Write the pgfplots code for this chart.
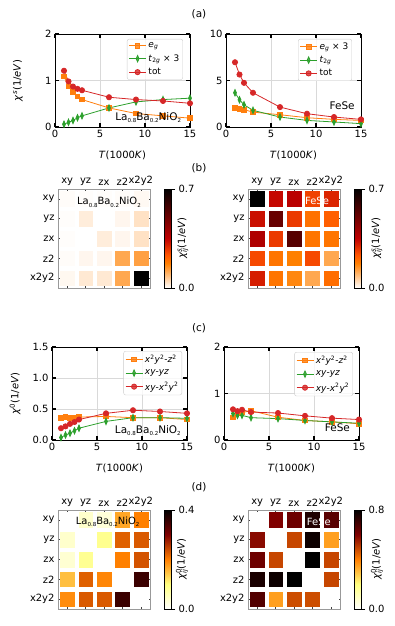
\documentclass[border=0pt]{standalone}
\usepackage{fontspec}
\setmainfont{DejaVu Sans}
\usepackage{pgfplots}
\pgfplotsset{compat=1.18}
\usepackage{pgfplotstable}

\definecolor{cO}{RGB}{255,127,14}
\definecolor{cG}{RGB}{44,160,44}
\definecolor{cR}{RGB}{214,39,40}

\newcommand\fs[1]{\fontsize{#1}{#1}\selectfont}
\newcommand\sub[1]{\raisebox{-0.45ex}{\fontsize{5.5}{6}\selectfont #1}}
\newcommand\lanio{La\sub{0.8}Ba\sub{0.2}NiO\sub{2}}

\pgfplotstableread{
c r v
0 0 0.004
1 0 0.003
2 0 0.003
3 0 0.004
4 0 0.008
0 1 0.003
1 1 0.025
2 1 0.000
3 1 0.012
4 1 0.040
0 2 0.003
1 2 0.000
2 2 0.025
3 2 0.012
4 2 0.040
0 3 0.004
1 3 0.012
2 3 0.012
3 3 0.120
4 3 0.130
0 4 0.010
1 4 0.030
2 4 0.030
3 4 0.120
4 4 0.700
}\tabBL

\pgfplotstableread{
c r v
0 0 0.700
1 0 0.340
2 0 0.360
3 0 0.260
4 0 0.300
0 1 0.330
1 1 0.510
2 1 0.270
3 1 0.195
4 1 0.220
0 2 0.380
1 2 0.270
2 2 0.540
3 2 0.190
4 2 0.190
0 3 0.250
1 3 0.190
2 3 0.175
3 3 0.250
4 3 0.120
0 4 0.310
1 4 0.190
2 4 0.165
3 4 0.120
4 4 0.200
}\tabBR

\pgfplotstableread{
c r v
0 0 0.000
1 0 0.040
2 0 0.030
3 0 0.170
4 0 0.200
0 1 0.040
1 1 0.000
2 1 0.088
3 1 0.225
4 1 0.230
0 2 0.035
1 2 0.085
2 2 0.000
3 2 0.200
4 2 0.235
0 3 0.150
1 3 0.225
2 3 0.195
3 3 0.000
4 3 0.354
0 4 0.190
1 4 0.230
2 4 0.230
3 4 0.354
4 4 0.000
}\tabDL

\pgfplotstableread{
c r v
0 0 0.000
1 0 0.600
2 0 0.630
3 0 0.750
4 0 0.660
0 1 0.585
1 1 0.000
2 1 0.490
3 1 0.780
4 1 0.350
0 2 0.630
1 2 0.490
2 2 0.000
3 2 0.800
4 2 0.490
0 3 0.760
1 3 0.780
2 3 0.800
3 3 0.000
4 3 0.490
0 4 0.670
1 4 0.350
2 4 0.480
3 4 0.480
4 4 0.000
}\tabDR

\pgfplotsset{
  colormap={gistheatr}{rgb(0cm)=(1,1,1); rgb(3cm)=(1,0.5,0); rgb(4cm)=(1,0.3333,0); rgb(6cm)=(0.75,0,0); rgb(12cm)=(0,0,0)},
  colormap={afmhotr}{rgb(0cm)=(1,1,1); rgb(1cm)=(1,1,0.5); rgb(2cm)=(1,0.5,0); rgb(3cm)=(0.5,0,0); rgb(4cm)=(0,0,0)},
  /pgf/number format/assume math mode=true,
  lineax/.style={
    scale only axis, width=135bp, height=93bp,
    xmin=0, xmax=15, xtick={0,5,10,15},
    tick align=inside, xtick pos=both, ytick pos=both,
    major tick length=4bp,
    tick style={black, line width=1.1pt},
    axis line style={black, line width=0.8pt},
    grid=major, grid style={black!15, line width=0.5pt},
    tick label style={font=\fs{10}},
    label style={font=\fs{10}},
    xlabel={\textit{T}(1000\textit{K})},
    xlabel style={at={(axis description cs:0.5,-0.3)}, anchor=center},
    ylabel style={at={(axis description cs:-0.274,0.5)}, anchor=center},
    clip=false,
    legend cell align=left,
    legend style={anchor=north east, draw=black!20, rounded corners=2pt,
      fill=white, fill opacity=0.8, text opacity=1, draw opacity=1,
      font=\fs{9}, inner sep=1.5pt, row sep=1.5pt},
  },
  so/.style={cO, line width=0.8pt, mark=square*, mark size=2.3bp, mark options={fill=cO}},
  sg/.style={cG, line width=0.8pt, mark=diamond*, mark size=3.2bp, mark options={fill=cG, xscale=0.6}},
  sr/.style={cR, line width=0.8pt, mark=*, mark size=2.6bp, mark options={fill=cR}},
  heat/.style={
    scale only axis, width=92bp, height=99bp,
    xmin=-0.5, xmax=4.5, ymin=-0.5, ymax=4.5, y dir=reverse,
    enlargelimits=false,
    xtick={0,...,4}, ytick={0,...,4},
    xticklabels={xy,yz,zx,z2,x2y2}, yticklabels={xy,yz,zx,z2,x2y2},
    xtick pos=both, ytick pos=both, xticklabel pos=right, yticklabel pos=left,
    tick align=inside, major tick length=2.5bp, tick style={black!75, line width=0.6pt},
    axis line style={black!40, line width=0.8pt},
    tick label style={font=\fs{10}},
    axis on top,
    point meta min=0,
    colorbar,
  },
  cbs/.style={
    at={(parent axis.north east)}, anchor=north west, xshift=6bp,
    scale only axis, width=7bp, height=99bp,
    ytick pos=right, yticklabel pos=right,
    tick align=outside, major tick length=3.5bp, tick style={black, line width=0.6pt},
    axis line style={black, line width=0.6pt},
    yticklabel style={font=\fs{10}, /pgf/number format/.cd, fixed, fixed zerofill, precision=1},
  },
  hplot/.style={scatter, only marks, mark=square*, mark size=6.9bp, point meta=explicit,
    scatter/use mapped color={draw=mapped color, fill=mapped color},
    mark options={yscale=1.07}},
}

\begin{document}
\begin{tikzpicture}
\useasboundingbox (0,0) rectangle (395bp,-626bp);

% panel labels
\node[font=\fs{10.5}] at (199bp,-14bp) {(a)};
\node[font=\fs{10.5}] at (199bp,-168bp) {(b)};
\node[font=\fs{10.5}] at (199bp,-328bp) {(c)};
\node[font=\fs{10.5}] at (199bp,-487bp) {(d)};

% ---------- (a) left ----------
\begin{axis}[lineax, at={(55bp,-127bp)}, anchor=south west,
  ymin=0, ymax=2, ytick={0,1,2},
  ylabel={\textit{χ}\textsuperscript{\textit{s}}(1/\textit{eV})},
  legend style={at={(rel axis cs:0.948,0.947)}}]
\addplot[so] coordinates {(1,1.09) (1.5,0.87) (2,0.75) (2.5,0.66) (3,0.59) (6,0.41) (9,0.29) (12,0.24) (15,0.19)};
\addlegendentry{\textit{e}\textsubscript{\textit{g}}}
\addplot[sg] coordinates {(1,0.06) (1.5,0.10) (2,0.14) (2.5,0.20) (3,0.24) (6,0.41) (9,0.54) (12,0.59) (15,0.62)};
\addlegendentry{\textit{t}\textsubscript{2\textit{g}} × 3}
\addplot[sr] coordinates {(1,1.21) (1.5,0.98) (2,0.87) (2.5,0.82) (3,0.79) (6,0.64) (9,0.59) (12,0.56) (15,0.51)};
\addlegendentry{tot}
\coordinate (tA1) at (rel axis cs:0.69,0.1);
\end{axis}
\node[font=\fs{10.5}] at (tA1) {\lanio};

% ---------- (a) right ----------
\begin{axis}[lineax, at={(226bp,-127bp)}, anchor=south west,
  ymin=0, ymax=10, ytick={0,5,10},
  legend style={at={(rel axis cs:0.933,0.947)}}]
\addplot[so] coordinates {(1,2.07) (1.5,1.96) (2,1.86) (3,1.60) (6,1.32) (9,1.00) (12,0.82) (15,0.71)};
\addlegendentry{\textit{e}\textsubscript{\textit{g}} × 3}
\addplot[sg] coordinates {(1,3.68) (1.5,2.93) (2,2.39) (3,1.79) (6,1.07) (9,0.71) (12,0.54) (15,0.36)};
\addlegendentry{\textit{t}\textsubscript{2\textit{g}}}
\addplot[sr] coordinates {(1,6.96) (1.5,5.64) (2,4.75) (3,3.68) (6,2.14) (9,1.43) (12,1.07) (15,0.82)};
\addlegendentry{tot}
\coordinate (tA2) at (rel axis cs:0.86,0.234);
\end{axis}
\node[font=\fs{10.5}] at (tA2) {FeSe};

% ---------- (b) left ----------
\begin{axis}[heat, at={(58bp,-288bp)}, anchor=south west,
  colormap name=gistheatr, point meta max=0.7,
  colorbar style={cbs, ytick={0,0.7}}]
\addplot[hplot] table[x=c, y=r, meta=v] {\tabBL};
\coordinate (tB1) at (axis cs:2.27,0.16);
\end{axis}
\node[font=\fs{10}] at (tB1) {\lanio};
\node[rotate=90, font=\fs{10}] at (183bp,-238bp) {\textit{χ}\rlap{\textsuperscript{\textit{s}}}\textsubscript{\textit{ij}}(1/\textit{eV})};

% ---------- (b) right ----------
\begin{axis}[heat, at={(248bp,-288bp)}, anchor=south west,
  colormap name=gistheatr, point meta max=0.7,
  colorbar style={cbs, ytick={0,0.7}}]
\addplot[hplot] table[x=c, y=r, meta=v] {\tabBR};
\coordinate (tB2) at (axis cs:3.25,0.1);
\end{axis}
\node[font=\fs{10}, text=white] at (tB2) {FeSe};
\node[rotate=90, font=\fs{10}] at (377bp,-238bp) {\textit{χ}\rlap{\textsuperscript{\textit{s}}}\textsubscript{\textit{ij}}(1/\textit{eV})};

% ---------- (c) left ----------
\begin{axis}[lineax, at={(52bp,-440bp)}, anchor=south west,
  ymin=0, ymax=1.5, ytick={0,0.5,1,1.5},
  yticklabel style={/pgf/number format/.cd, fixed, fixed zerofill, precision=1},
  ylabel={\textit{χ}\textsuperscript{0}(1/\textit{eV})},
  legend style={at={(rel axis cs:0.963,0.957)}}]
\addplot[so] coordinates {(1,0.355) (1.5,0.37) (2,0.36) (2.5,0.355) (3,0.37) (6,0.38) (9,0.36) (12,0.36) (15,0.33)};
\addlegendentry{\textit{x}\textsuperscript{2}\textit{y}\textsuperscript{2}-\textit{z}\textsuperscript{2}}
\addplot[sg] coordinates {(1,0.04) (1.5,0.08) (2,0.11) (2.5,0.15) (3,0.19) (6,0.30) (9,0.36) (12,0.36) (15,0.35)};
\addlegendentry{\textit{xy}-\textit{yz}}
\addplot[sr] coordinates {(1,0.19) (1.5,0.22) (2,0.26) (2.5,0.29) (3,0.33) (6,0.43) (9,0.48) (12,0.46) (15,0.43)};
\addlegendentry{\textit{xy}-\textit{x}\textsuperscript{2}\textit{y}\textsuperscript{2}}
\coordinate (tC1) at (rel axis cs:0.71,0.1);
\end{axis}
\node[font=\fs{10.5}] at (tC1) {\lanio};

% ---------- (c) right ----------
\begin{axis}[lineax, at={(224bp,-440bp)}, anchor=south west,
  ymin=0, ymax=2, ytick={0,1,2},
  legend style={at={(rel axis cs:0.955,0.946)}}]
\addplot[so] coordinates {(1,0.49) (1.5,0.57) (2,0.59) (3,0.63) (6,0.49) (9,0.42) (12,0.39) (15,0.35)};
\addlegendentry{\textit{x}\textsuperscript{2}\textit{y}\textsuperscript{2}-\textit{z}\textsuperscript{2}}
\addplot[sg] coordinates {(1,0.57) (1.5,0.53) (2,0.53) (3,0.48) (6,0.46) (9,0.42) (12,0.39) (15,0.36)};
\addlegendentry{\textit{xy}-\textit{yz}}
\addplot[sr] coordinates {(1,0.66) (1.5,0.62) (2,0.65) (3,0.60) (6,0.58) (9,0.52) (12,0.47) (15,0.44)};
\addlegendentry{\textit{xy}-\textit{x}\textsuperscript{2}\textit{y}\textsuperscript{2}}
\coordinate (tC2) at (rel axis cs:0.84,0.13);
\end{axis}
\node[font=\fs{10.5}] at (tC2) {FeSe};

% ---------- (d) left ----------
\begin{axis}[heat, at={(58bp,-609bp)}, anchor=south west,
  colormap name=afmhotr, point meta max=0.4,
  colorbar style={cbs, ytick={0,0.4}}]
\addplot[hplot] table[x=c, y=r, meta=v] {\tabDL};
\coordinate (tD1) at (axis cs:2.2,0.1);
\end{axis}
\node[font=\fs{10}] at (tD1) {\lanio};
\node[rotate=90, font=\fs{10}] at (182bp,-559bp) {\textit{χ}\rlap{\textsuperscript{0}}\textsubscript{\textit{ij}}(1/\textit{eV})};

% ---------- (d) right ----------
\begin{axis}[heat, at={(248bp,-609bp)}, anchor=south west,
  colormap name=afmhotr, point meta max=0.8,
  colorbar style={cbs, ytick={0,0.8}}]
\addplot[hplot] table[x=c, y=r, meta=v] {\tabDR};
\coordinate (tD2) at (axis cs:3.35,0.1);
\end{axis}
\node[font=\fs{10}, text=white] at (tD2) {FeSe};
\node[rotate=90, font=\fs{10}] at (377bp,-559bp) {\textit{χ}\rlap{\textsuperscript{0}}\textsubscript{\textit{ij}}(1/\textit{eV})};

\end{tikzpicture}
\end{document}
